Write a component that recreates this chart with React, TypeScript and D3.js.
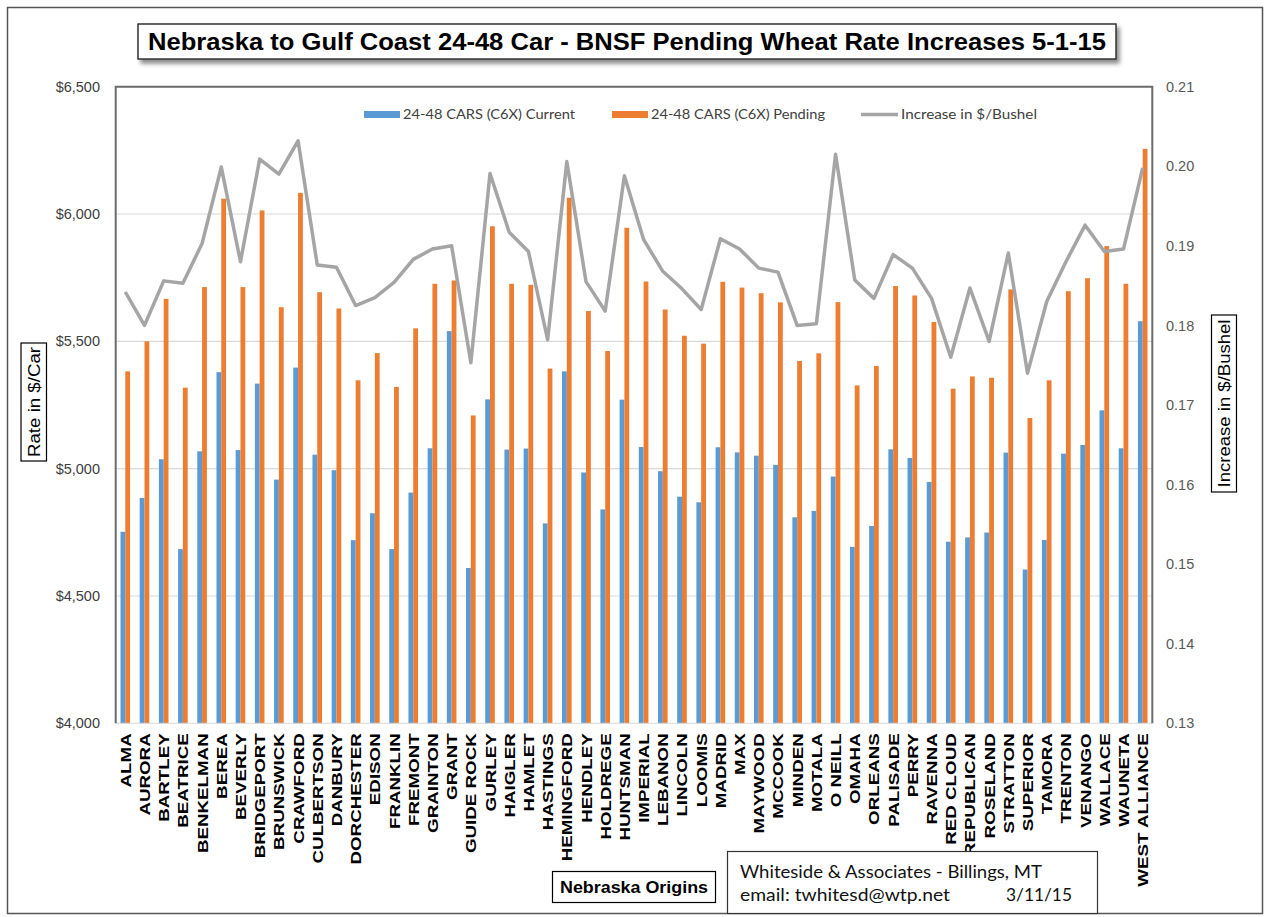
import React from "react";
import * as d3 from "d3";

const categories = ["ALMA","AURORA","BARTLEY","BEATRICE","BENKELMAN","BEREA","BEVERLY","BRIDGEPORT","BRUNSWICK","CRAWFORD","CULBERTSON","DANBURY","DORCHESTER","EDISON","FRANKLIN","FREMONT","GRAINTON","GRANT","GUIDE ROCK","GURLEY","HAIGLER","HAMLET","HASTINGS","HEMINGFORD","HENDLEY","HOLDREGE","HUNTSMAN","IMPERIAL","LEBANON","LINCOLN","LOOMIS","MADRID","MAX","MAYWOOD","MCCOOK","MINDEN","MOTALA","O NEILL","OMAHA","ORLEANS","PALISADE","PERRY","RAVENNA","RED CLOUD","REPUBLICAN","ROSELAND","STRATTON","SUPERIOR","TAMORA","TRENTON","VENANGO","WALLACE","WAUNETA","WEST ALLIANCE"];

const currentRate = [4752,4885,5037,4684,5068,5379,5073,5334,4957,5397,5055,4994,4719,4825,4684,4906,5080,5540,4610,5272,5075,5079,4785,5382,4985,4840,5271,5085,4990,4890,4868,5084,5064,5051,5015,4809,4834,4969,4693,4775,5076,5042,4948,4713,4730,4749,5063,4604,4720,5059,5093,5229,5080,5579];

const pendingRate = [5382,5500,5667,5318,5713,6060,5713,6014,5634,6083,5693,5629,5347,5454,5321,5551,5726,5739,5209,5952,5726,5722,5393,6064,5619,5462,5946,5735,5625,5522,5491,5734,5711,5689,5653,5423,5453,5654,5327,5403,5717,5680,5576,5314,5362,5357,5704,5199,5347,5697,5748,5874,5726,6256];

const increasePerBushel = [0.1842,0.1800,0.1856,0.1853,0.1903,0.1999,0.1880,0.2009,0.1990,0.2032,0.1876,0.1873,0.1825,0.1835,0.1854,0.1883,0.1896,0.1900,0.1753,0.1991,0.1917,0.1893,0.1782,0.2006,0.1855,0.1818,0.1988,0.1908,0.1868,0.1846,0.1820,0.1909,0.1896,0.1872,0.1867,0.1800,0.1802,0.2015,0.1857,0.1834,0.1889,0.1872,0.1834,0.1760,0.1847,0.1780,0.1891,0.1740,0.1830,0.1880,0.1926,0.1893,0.1896,0.1998];

const leftTicks = [4000, 4500, 5000, 5500, 6000, 6500];
const rightTicks = [0.13, 0.14, 0.15, 0.16, 0.17, 0.18, 0.19, 0.2, 0.21];
const seriesNames = ["24-48 CARS (C6X) Current", "24-48 CARS (C6X) Pending", "Increase in $/Bushel"];

const W = 1265, H = 917;
const PL = 115.7, PR = 1152.3, PT = 86.7, PB = 723.3;
const BLUE = "#5B9BD5", ORANGE = "#ED7D31", GRAY = "#A5A5A5";

export default function App() {
  const x = d3.scaleBand<string>().domain(categories).range([PL, PR]).paddingInner(0.5).paddingOuter(0.25);
  const inner = d3.scaleBand<string>().domain(["cur", "pen"]).range([0, x.bandwidth()]);
  const yL = d3.scaleLinear().domain([4000, 6500]).range([PB, PT]);
  const yR = d3.scaleLinear().domain([0.13, 0.21]).range([PB, PT]);
  const cx = (c: string) => (x(c) as number) + x.bandwidth() / 2;
  const line = d3.line<number>().x((_, i) => cx(categories[i])).y((d) => yR(d));
  const fmt = d3.format("$,.0f");
  const fmtR = d3.format(".2f");

  return (
    <svg width={W} height={H} style={{ position: "absolute", left: 0, top: 0, background: "#fff" }} fontFamily="'Liberation Sans', Arial, sans-serif">
      <defs>
        <filter id="shadow" x="-5%" y="-20%" width="110%" height="160%">
          <feDropShadow dx="3" dy="4" stdDeviation="2" floodColor="#000" floodOpacity="0.45" />
        </filter>
      </defs>
      {/* outer frame */}
      <rect x={7.5} y={7.5} width={1255} height={906} fill="#fff" stroke="#555" strokeWidth={1.5} />

      {/* gridlines */}
      {leftTicks.slice(1, -1).map((t) => (
        <line key={t} x1={PL} x2={PR} y1={yL(t)} y2={yL(t)} stroke="#D9D9D9" strokeWidth={1.2} />
      ))}

      {/* bars */}
      {categories.map((c, i) => (
        <g key={c}>
          <rect x={(x(c) as number) + (inner("cur") as number)} y={yL(currentRate[i])} width={inner.bandwidth()} height={PB - yL(currentRate[i])} fill={BLUE} />
          <rect x={(x(c) as number) + (inner("pen") as number)} y={yL(pendingRate[i])} width={inner.bandwidth()} height={PB - yL(pendingRate[i])} fill={ORANGE} />
        </g>
      ))}

      {/* line */}
      <path d={line(increasePerBushel) || ""} fill="none" stroke={GRAY} strokeWidth={3.5} strokeLinejoin="round" />

      {/* plot border */}
      <line x1={PL} x2={PR} y1={PB} y2={PB} stroke="#D9D9D9" strokeWidth={1} />
      <path d={`M${PL},${PB}V${PT}H${PR}V${PB}`} fill="none" stroke="#6b6b6b" strokeWidth={2} />

      {/* left ticks */}
      {leftTicks.map((t) => (
        <text key={t} x={100} y={yL(t)} dy="0.35em" textAnchor="end" fontSize={14.5} fill="#404040">{fmt(t)}</text>
      ))}
      {/* right ticks */}
      {rightTicks.map((t) => (
        <text key={t} x={1166} y={yR(t)} dy="0.35em" textAnchor="start" fontSize={14.5} fill="#595959">{fmtR(t)}</text>
      ))}

      {/* x labels */}
      {categories.map((c) => (
        <text key={c} transform={`translate(${cx(c) + 5.5},${PB + 10}) rotate(-90) scale(1.25,1)`} textAnchor="end" fontSize={15} fontWeight="bold" fill="#000">{c}</text>
      ))}

      {/* legend */}
      <g fontFamily="Lato, 'Open Sans', sans-serif" fontSize={14} fill="#404040">
        <rect x={364} y={111} width={36} height={7} fill={BLUE} />
        <text x={403} y={119} textLength={172} lengthAdjust="spacingAndGlyphs">{seriesNames[0]}</text>
        <rect x={612} y={111} width={36} height={7} fill={ORANGE} />
        <text x={651} y={119} textLength={174} lengthAdjust="spacingAndGlyphs">{seriesNames[1]}</text>
        <line x1={861} x2={898} y1={114.5} y2={114.5} stroke={GRAY} strokeWidth={3.5} />
        <text x={901} y={119} textLength={136} lengthAdjust="spacingAndGlyphs">{seriesNames[2]}</text>
      </g>

      {/* title */}
      <rect x={138} y={24} width={978} height={35} fill="#fff" stroke="#333" strokeWidth={1.5} filter="url(#shadow)" />
      <text x={627} y={50} textAnchor="middle" fontSize={23} fontWeight="bold" fill="#000" textLength={958} lengthAdjust="spacingAndGlyphs">Nebraska to Gulf Coast 24-48 Car - BNSF Pending Wheat Rate Increases 5-1-15</text>

      {/* left axis title */}
      <rect x={21} y={343} width={25.5} height={118} fill="#fff" stroke="#000" strokeWidth={1.2} />
      <text transform={`translate(39.5,${402}) rotate(-90)`} textAnchor="middle" fontSize={16} fill="#000" textLength={110} lengthAdjust="spacingAndGlyphs">Rate in $/Car</text>

      {/* right axis title */}
      <rect x={1211.5} y={315} width={25} height={177} fill="#fff" stroke="#000" strokeWidth={1.2} />
      <text transform={`translate(1229.5,${403.5}) rotate(-90)`} textAnchor="middle" fontSize={16} fill="#000" textLength={168} lengthAdjust="spacingAndGlyphs">Increase in $/Bushel</text>

      {/* x axis title */}
      <rect x={552.5} y={871.5} width={163} height={31} fill="#fff" stroke="#000" strokeWidth={1.2} />
      <text x={634} y={893} textAnchor="middle" fontSize={16} fontWeight="bold" fill="#000" textLength={148} lengthAdjust="spacingAndGlyphs">Nebraska Origins</text>

      {/* author box */}
      <rect x={727.5} y={851.5} width={370} height={62} fill="#fff" stroke="#333" strokeWidth={1.2} />
      <g fontFamily="Lato, 'Open Sans', sans-serif" fontSize={17} fill="#111">
        <text x={740} y={878} textLength={302} lengthAdjust="spacingAndGlyphs">Whiteside &amp; Associates - Billings, MT</text>
        <text x={740} y={901} textLength={210} lengthAdjust="spacingAndGlyphs">email: twhitesd@wtp.net</text>
        <text x={1006} y={901} textLength={66} lengthAdjust="spacingAndGlyphs">3/11/15</text>
      </g>
    </svg>
  );
}
